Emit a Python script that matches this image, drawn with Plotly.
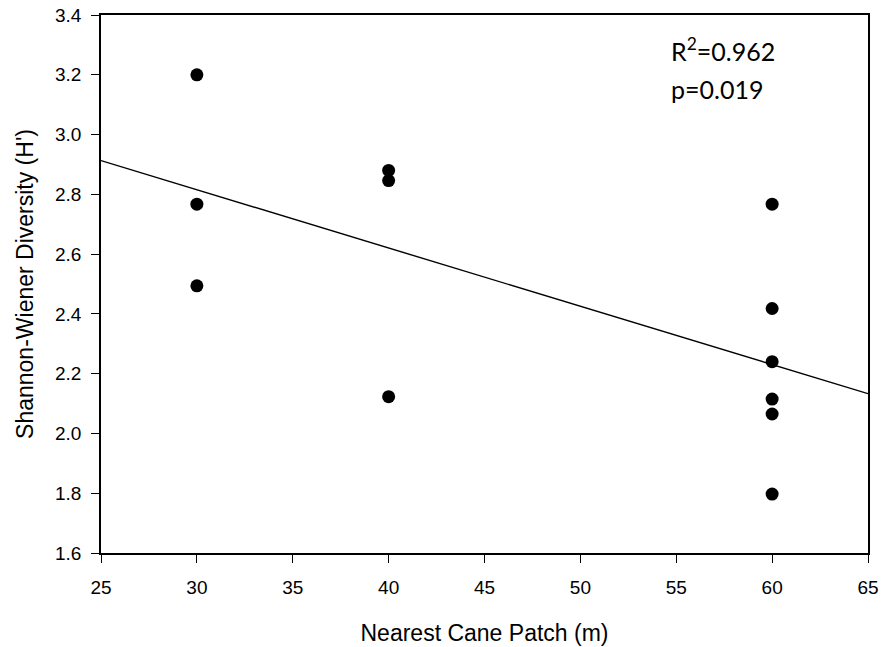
import plotly.graph_objects as go

# Data
distance_m = [30, 30, 30, 40, 40, 40, 60, 60, 60, 60, 60, 60]
diversity_h = [3.200, 2.767, 2.494, 2.880, 2.846, 2.123,
               2.767, 2.418, 2.240, 2.115, 2.065, 1.797]

# Fitted regression line (end points)
fit_x = [25, 65]
fit_y = [2.913, 2.133]

x_ticks = [25, 30, 35, 40, 45, 50, 55, 60, 65]
y_ticks = [1.6, 1.8, 2.0, 2.2, 2.4, 2.6, 2.8, 3.0, 3.2, 3.4]
y_tick_labels = ["1.6", "1.8", "2.0", "2.2", "2.4", "2.6", "2.8", "3.0", "3.2", "3.4"]

stats_text = ["R<sup>2</sup>=0.962", "p=0.019"]

FONT = "Liberation Sans, Arial, sans-serif"

fig = go.Figure()
fig.add_trace(go.Scatter(x=fit_x, y=fit_y, mode="lines",
                         line=dict(color="black", width=1.4),
                         showlegend=False, hoverinfo="skip"))
fig.add_trace(go.Scatter(x=distance_m, y=diversity_h, mode="markers",
                         marker=dict(color="black", size=13),
                         showlegend=False))

axis_common = dict(showline=True, linecolor="black", linewidth=1.5, mirror=True,
                   ticks="outside", ticklen=8, tickwidth=1.2, tickcolor="black",
                   showgrid=False, zeroline=False, automargin=False,
                   ticklabeloverflow="allow",
                   tickfont=dict(family=FONT, size=19, color="black"))

fig.update_xaxes(range=[25, 65], tickvals=x_ticks,
                 title=dict(text="Nearest Cane Patch (m)",
                            font=dict(family=FONT, size=23, color="black"),
                            standoff=28),
                 ticklabelstandoff=8,
                 **axis_common)
fig.update_yaxes(range=[1.6, 3.4], tickvals=y_ticks, ticktext=y_tick_labels,
                 title=dict(text="Shannon-Wiener Diversity (H')",
                            font=dict(family=FONT, size=23, color="black"),
                            standoff=15),
                 ticklabelstandoff=6,
                 **axis_common)

fig.add_annotation(xref="paper", yref="paper", x=0.741, y=0.970,
                   xanchor="left", yanchor="top", showarrow=False, align="left",
                   text=stats_text[0],
                   font=dict(family="Lato, Open Sans, sans-serif", size=25, color="black"))
fig.add_annotation(xref="paper", yref="paper", x=0.741, y=0.894,
                   xanchor="left", yanchor="top", showarrow=False, align="left",
                   text=stats_text[1],
                   font=dict(family="Lato, Open Sans, sans-serif", size=25, color="black"))

fig.update_layout(width=882, height=647,
                  margin=dict(l=101, r=14, t=15, b=94),
                  paper_bgcolor="white", plot_bgcolor="white")

# Remove the default 8px body margin so the figure fills the window exactly
fig.write_html("out.html", config={"displayModeBar": False},
               post_script="document.body.style.margin='0px';")
